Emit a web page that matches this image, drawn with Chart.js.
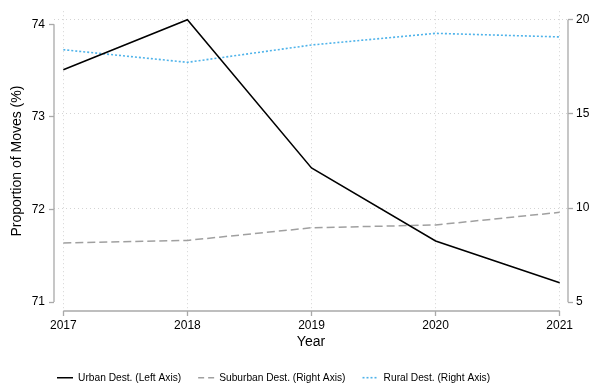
<!DOCTYPE html>
<html>
<head>
<meta charset="utf-8">
<script src="https://cdn.jsdelivr.net/npm/chart.js@4.4.1/dist/chart.umd.min.js"></script>
<style>
  html, body { margin: 0; padding: 0; background: #ffffff; }
  canvas { display: block; }
</style>
</head>
<body>
<canvas id="chart" width="592" height="385"></canvas>
<script>
// Share of moves by destination type, 2017-2021
const years = [2017, 2018, 2019, 2020, 2021];
const urbanShare = [73.51, 74.05, 72.45, 71.66, 71.21];      // left axis
const suburbanShare = [8.14, 8.28, 8.95, 9.10, 9.77];        // right axis
const ruralShare = [18.41, 17.74, 18.66, 19.28, 19.09];      // right axis
const leftTicks = [71, 72, 73, 74];
const rightTicks = [5, 10, 15, 20];
const seriesNames = ['Urban Dest. (Left Axis)', 'Suburban Dest. (Right Axis)', 'Rural Dest. (Right Axis)'];

const FONT = "'Liberation Sans', Arial, Helvetica, sans-serif";
const AXIS_GREY = '#a9a9a9';
const GRID_GREY = '#d4d4d4';
const legendDash = [[], [6, 4], [2, 2]];

function pts(values) {
  return years.map((yr, i) => ({ x: yr, y: values[i] }));
}

// Axis lines running from the first to the last tick of each scale
const axisLines = {
  id: 'axisLines',
  afterDraw(chart) {
    const { ctx, chartArea: a, scales } = chart;
    const { x, yL, yR } = scales;
    ctx.save();
    ctx.strokeStyle = AXIS_GREY;
    ctx.lineWidth = 1.3;
    ctx.beginPath();
    ctx.moveTo(a.left, yL.getPixelForValue(leftTicks[leftTicks.length - 1]));
    ctx.lineTo(a.left, yL.getPixelForValue(leftTicks[0]));
    ctx.moveTo(a.right, yR.getPixelForValue(rightTicks[rightTicks.length - 1]));
    ctx.lineTo(a.right, yR.getPixelForValue(rightTicks[0]));
    ctx.moveTo(x.getPixelForValue(years[0]), a.bottom);
    ctx.lineTo(x.getPixelForValue(years[years.length - 1]), a.bottom);
    ctx.stroke();
    ctx.restore();
  }
};

// Legend row placement under the axis title
const legendPlace = {
  id: 'legendPlace',
  afterLayout(chart) {
    const lg = chart.legend;
    lg.left = 40;
    lg.right = lg.left + lg.width;
    lg.top = 355.6;
    lg.bottom = lg.top + lg.height;
  }
};

const fixedTicks = (values) => (scale) => {
  scale.ticks = values.map(v => ({ value: v }));
};

new Chart(document.getElementById('chart'), {
  type: 'line',
  data: {
    datasets: [
      {
        label: seriesNames[0],
        data: pts(urbanShare),
        yAxisID: 'yL',
        borderColor: '#000000',
        backgroundColor: '#000000',
        borderWidth: 1.5,
        pointRadius: 0,
        tension: 0
      },
      {
        label: seriesNames[1],
        data: pts(suburbanShare),
        yAxisID: 'yR',
        borderColor: '#a0a0a0',
        backgroundColor: '#a0a0a0',
        borderWidth: 1.5,
        borderDash: [8, 4],
        pointRadius: 0,
        tension: 0
      },
      {
        label: seriesNames[2],
        data: pts(ruralShare),
        yAxisID: 'yR',
        borderColor: '#4fb3ea',
        backgroundColor: '#4fb3ea',
        borderWidth: 1.6,
        borderDash: [2, 2],
        pointRadius: 0,
        tension: 0
      }
    ]
  },
  options: {
    responsive: false,
    animation: false,
    devicePixelRatio: 1,
    layout: { padding: { top: 7, left: 0, right: 0, bottom: 0 } },
    plugins: {
      tooltip: { enabled: false },
      legend: {
        position: 'bottom',
        align: 'start',
        maxHeight: 34,
        labels: {
          usePointStyle: true,
          pointStyle: 'line',
          pointStyleWidth: 16,
          padding: 17,
          color: '#000000',
          font: { family: FONT, size: 10.2 },
          generateLabels(chart) {
            const items = Chart.defaults.plugins.legend.labels.generateLabels(chart);
            items.forEach((it, i) => { it.lineDash = legendDash[i]; it.pointStyle = 'line'; });
            return items;
          }
        }
      }
    },
    scales: {
      x: {
        type: 'linear',
        min: 2016.925,
        max: 2021.067,
        afterBuildTicks: fixedTicks(years),
        afterFit(s) { s.height = 40; },
        grid: {
          drawOnChartArea: true,
          color: GRID_GREY,
          lineWidth: 1,
          tickLength: 5,
          tickColor: AXIS_GREY,
          tickWidth: 1.3
        },
        border: { display: false, dash: [1, 3] },
        ticks: {
          color: '#000000',
          font: { family: FONT, size: 12 },
          padding: 2,
          maxRotation: 0,
          callback: (v) => String(v)
        },
        title: {
          display: true,
          text: 'Year',
          color: '#000000',
          font: { family: FONT, size: 14 },
          padding: { top: 0, bottom: 0 }
        }
      },
      yL: {
        type: 'linear',
        position: 'left',
        min: 70.904,
        max: 74.142,
        afterBuildTicks: fixedTicks(leftTicks),
        afterFit(s) { s.width = 54; },
        grid: {
          drawOnChartArea: false,
          tickLength: 5,
          tickColor: AXIS_GREY,
          tickWidth: 1.3
        },
        border: { display: false },
        ticks: {
          color: '#000000',
          font: { family: FONT, size: 12 },
          padding: 4,
          callback: (v) => String(v)
        },
        title: {
          display: true,
          text: 'Proportion of Moves (%)',
          color: '#000000',
          font: { family: FONT, size: 14 },
          padding: { top: 8.5, bottom: 0 }
        }
      },
      yR: {
        type: 'linear',
        position: 'right',
        min: 4.529,
        max: 20.456,
        afterBuildTicks: fixedTicks(rightTicks),
        afterFit(s) { s.width = 24; },
        grid: {
          drawOnChartArea: true,
          color: (c) => (c.tick && c.tick.value === rightTicks[0]) ? 'rgba(0,0,0,0)' : GRID_GREY,
          lineWidth: 1,
          tickLength: 5,
          tickColor: AXIS_GREY,
          tickWidth: 1.3
        },
        border: { display: false, dash: [1, 3] },
        ticks: {
          color: '#000000',
          font: { family: FONT, size: 12 },
          padding: 3,
          callback: (v) => String(v)
        }
      }
    }
  },
  plugins: [axisLines, legendPlace]
});
</script>
</body>
</html>
